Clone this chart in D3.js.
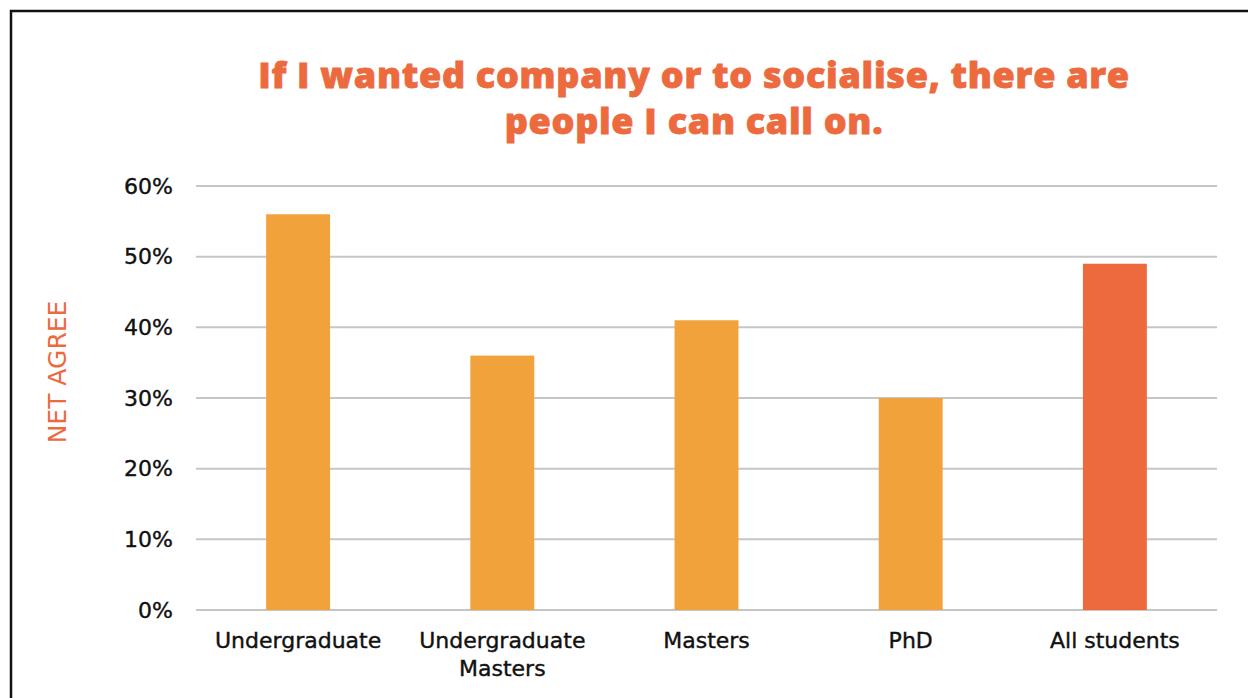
<!DOCTYPE html>
<html>
<head>
<meta charset="utf-8">
<script src="https://cdn.jsdelivr.net/npm/d3@7"></script>
<style>
  html, body { margin: 0; padding: 0; background: #fff; }
  svg { display: block; }
</style>
</head>
<body>
<svg id="chart" width="1248" height="698"></svg>
<script>
// Net agreement by student group
const categories = [["Undergraduate"], ["Undergraduate", "Masters"], ["Masters"], ["PhD"], ["All students"]];
const values = [56, 36, 41, 30, 49];
const highlight = [false, false, false, false, true];
const tickValues = [0, 10, 20, 30, 40, 50, 60];
const titleLines = ["If I wanted company or to socialise, there are", "people I can call on."];
const yTitle = "NET AGREE";

const svg = d3.select("#chart");
const W = 1248, H = 698;
const margin = { left: 196, right: 31, top: 186, bottom: 88 };
const plotW = W - margin.left - margin.right;
const plotH = H - margin.top - margin.bottom;
const labelFont = "'DejaVu Sans', 'Noto Sans', sans-serif";

// frame
svg.append("rect")
  .attr("x", 11).attr("y", 11)
  .attr("width", W + 20).attr("height", H + 20)
  .attr("fill", "none").attr("stroke", "#111").attr("stroke-width", 2.5);

const g = svg.append("g").attr("transform", `translate(${margin.left},${margin.top})`);

const x = d3.scaleBand()
  .domain(d3.range(categories.length))
  .range([0, plotW])
  .paddingInner(0.687)
  .paddingOuter(0.3435);

const y = d3.scaleLinear().domain([0, 60]).range([plotH, 0]);

// gridlines
g.append("g")
  .selectAll("line")
  .data(tickValues)
  .join("line")
  .attr("x1", 0).attr("x2", plotW)
  .attr("y1", d => y(d)).attr("y2", d => y(d))
  .attr("stroke", "#c6c6c6").attr("stroke-width", 2);

// y-axis labels
const yAxis = d3.axisLeft(y).tickValues(tickValues).tickFormat(d => d + "%").tickSize(0).tickPadding(23);
g.append("g").call(yAxis)
  .call(s => s.select(".domain").remove())
  .selectAll("text")
  .attr("font-family", labelFont)
  .attr("font-size", 22)
  .attr("fill", "#111")
  .attr("stroke", "#111")
  .attr("stroke-width", 0.4);

// bars
g.append("g")
  .selectAll("rect")
  .data(values)
  .join("rect")
  .attr("x", (d, i) => x(i))
  .attr("width", x.bandwidth())
  .attr("y", d => y(d))
  .attr("height", d => plotH - y(d))
  .attr("fill", (d, i) => highlight[i] ? "#EC6A3E" : "#F2A23B");

// category labels
const xl = g.append("g").attr("transform", `translate(0,${plotH})`);
categories.forEach((lines, i) => {
  const cx = x(i) + x.bandwidth() / 2;
  const t = xl.append("text")
    .attr("x", cx)
    .attr("y", 38)
    .attr("text-anchor", "middle")
    .attr("font-family", labelFont)
    .attr("font-size", 22)
    .attr("fill", "#111")
    .attr("stroke", "#111")
    .attr("stroke-width", 0.4);
  lines.forEach((ln, k) => {
    t.append("tspan").attr("x", cx).attr("dy", k === 0 ? 0 : 28).text(ln);
  });
});

// y-axis title
svg.append("text")
  .attr("transform", `translate(66,372) rotate(-90)`)
  .attr("text-anchor", "middle")
  .attr("font-family", labelFont)
  .attr("font-size", 25)
  .attr("fill", "#EC6A3E")
  .text(yTitle);

// chart title
const title = svg.append("text")
  .attr("text-anchor", "middle")
  .attr("font-family", "'Open Sans', sans-serif")
  .attr("font-weight", 800)
  .attr("font-size", 36)
  .attr("letter-spacing", 0.7)
  .attr("fill", "#EC6A3E")
  .attr("stroke", "#EC6A3E")
  .attr("stroke-width", 0.8);
titleLines.forEach((ln, k) => {
  title.append("tspan").attr("x", 694).attr("y", 88 + k * 46).text(ln);
});
</script>
</body>
</html>
